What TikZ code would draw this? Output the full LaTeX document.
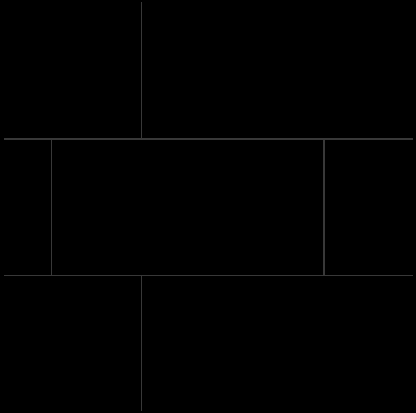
\documentclass[tikz,border=0pt]{standalone}
\begin{document}
\begin{tikzpicture}[x=1pt,y=-1pt,
  wire/.style={draw=black!78!white, line width=1.5pt}]
\fill[black] (0,0) rectangle (416,413);
\useasboundingbox (0,0) rectangle (416,413);
\draw[wire] (141.5,2) -- (141.5,139);
\draw[wire] (4,139) -- (413,139);
\draw[wire] (51.5,139) -- (51.5,275.5);
\draw[wire] (324,139) -- (324,275.5);
\draw[wire] (4,275.5) -- (413,275.5);
\draw[wire] (141.5,275.5) -- (141.5,411);
\end{tikzpicture}
\end{document}
